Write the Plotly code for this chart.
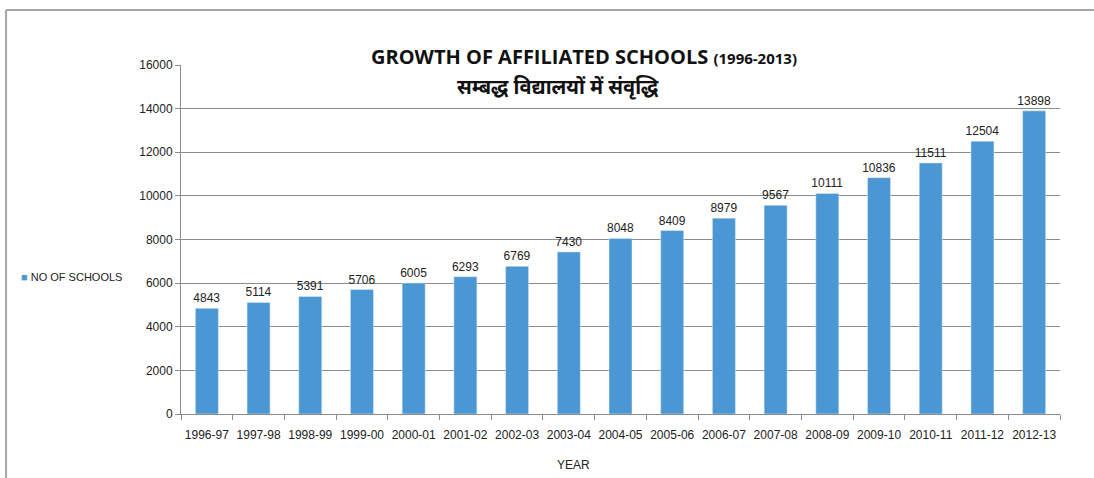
import plotly.graph_objects as go

years = ['1996-97', '1997-98', '1998-99', '1999-00', '2000-01', '2001-02',
         '2002-03', '2003-04', '2004-05', '2005-06', '2006-07', '2007-08',
         '2008-09', '2009-10', '2010-11', '2011-12', '2012-13']
schools = [4843, 5114, 5391, 5706, 6005, 6293, 6769, 7430, 8048, 8409,
           8979, 9567, 10111, 10836, 11511, 12504, 13898]

grey = '#8c8c8c'
bar_col = '#4a97d3'

fig = go.Figure()
fig.add_trace(go.Bar(
    x=years, y=schools, name='NO OF SCHOOLS', marker_color=bar_col,
    text=[str(v) for v in schools], textposition='outside',
    constraintext='none',
    textfont=dict(size=12, color='#222'), cliponaxis=False,
    showlegend=False
))

fig.update_layout(
    width=1094, height=478,
    margin=dict(l=181, r=34, t=65, b=64),
    paper_bgcolor='white', plot_bgcolor='white',
    font=dict(family='Liberation Sans, Noto Sans, sans-serif', size=12, color='#222'),
    bargap=0.555,
    xaxis=dict(type='category', showline=True, linecolor=grey, ticks='outside',
               ticklen=5, tickcolor=grey, tickson='boundaries', showgrid=False,
               tickangle=0, ticklabelstandoff=10),
    yaxis=dict(range=[0, 16000], dtick=2000, tickformat='d', showgrid=True,
               gridcolor=grey, showline=True, linecolor=grey, ticks='outside',
               ticklen=5, tickcolor=grey, zeroline=False),
)

fig.add_annotation(
    text='<b>GROWTH OF AFFILIATED SCHOOLS </b><span style="font-size:15px"><b>(1996-2013)</b></span>',
    xref='paper', yref='paper', x=0.458, y=1.023, yanchor='middle',
    showarrow=False, font=dict(size=20, family='Open Sans, sans-serif', color='#111')
)
fig.add_annotation(
    text='<b>सम्बद्ध विद्यालयों में संवृद्धि</b>',
    xref='paper', yref='paper', x=0.429, y=0.937, yanchor='middle',
    showarrow=False, font=dict(size=20, family='Noto Sans, sans-serif', color='#111')
)
fig.add_annotation(
    text='YEAR', xref='paper', yref='paper', x=0.446, y=-0.146,
    yanchor='middle', showarrow=False, font=dict(size=12)
)
# legend key drawn as text next to the plot
fig.add_annotation(
    text=f'<span style="color:{bar_col}">■</span> NO OF SCHOOLS',
    xref='paper', yref='paper', x=-0.184, y=0.3926, xanchor='left',
    yanchor='middle', showarrow=False, font=dict(size=11)
)

# outer chart border (top and left edges visible)
fig.add_shape(type='line', xref='paper', yref='paper',
              x0=-0.199, x1=1.04, y0=1.1576, y1=1.1576,
              line=dict(color='#a6a6a6', width=2))
fig.add_shape(type='line', xref='paper', yref='paper',
              x0=-0.199, x1=-0.199, y0=-0.2, y1=1.1576,
              line=dict(color='#a6a6a6', width=2))

fig.write_html('out.html', config={'displayModeBar': False},
               post_script="document.body.style.margin='0';")
